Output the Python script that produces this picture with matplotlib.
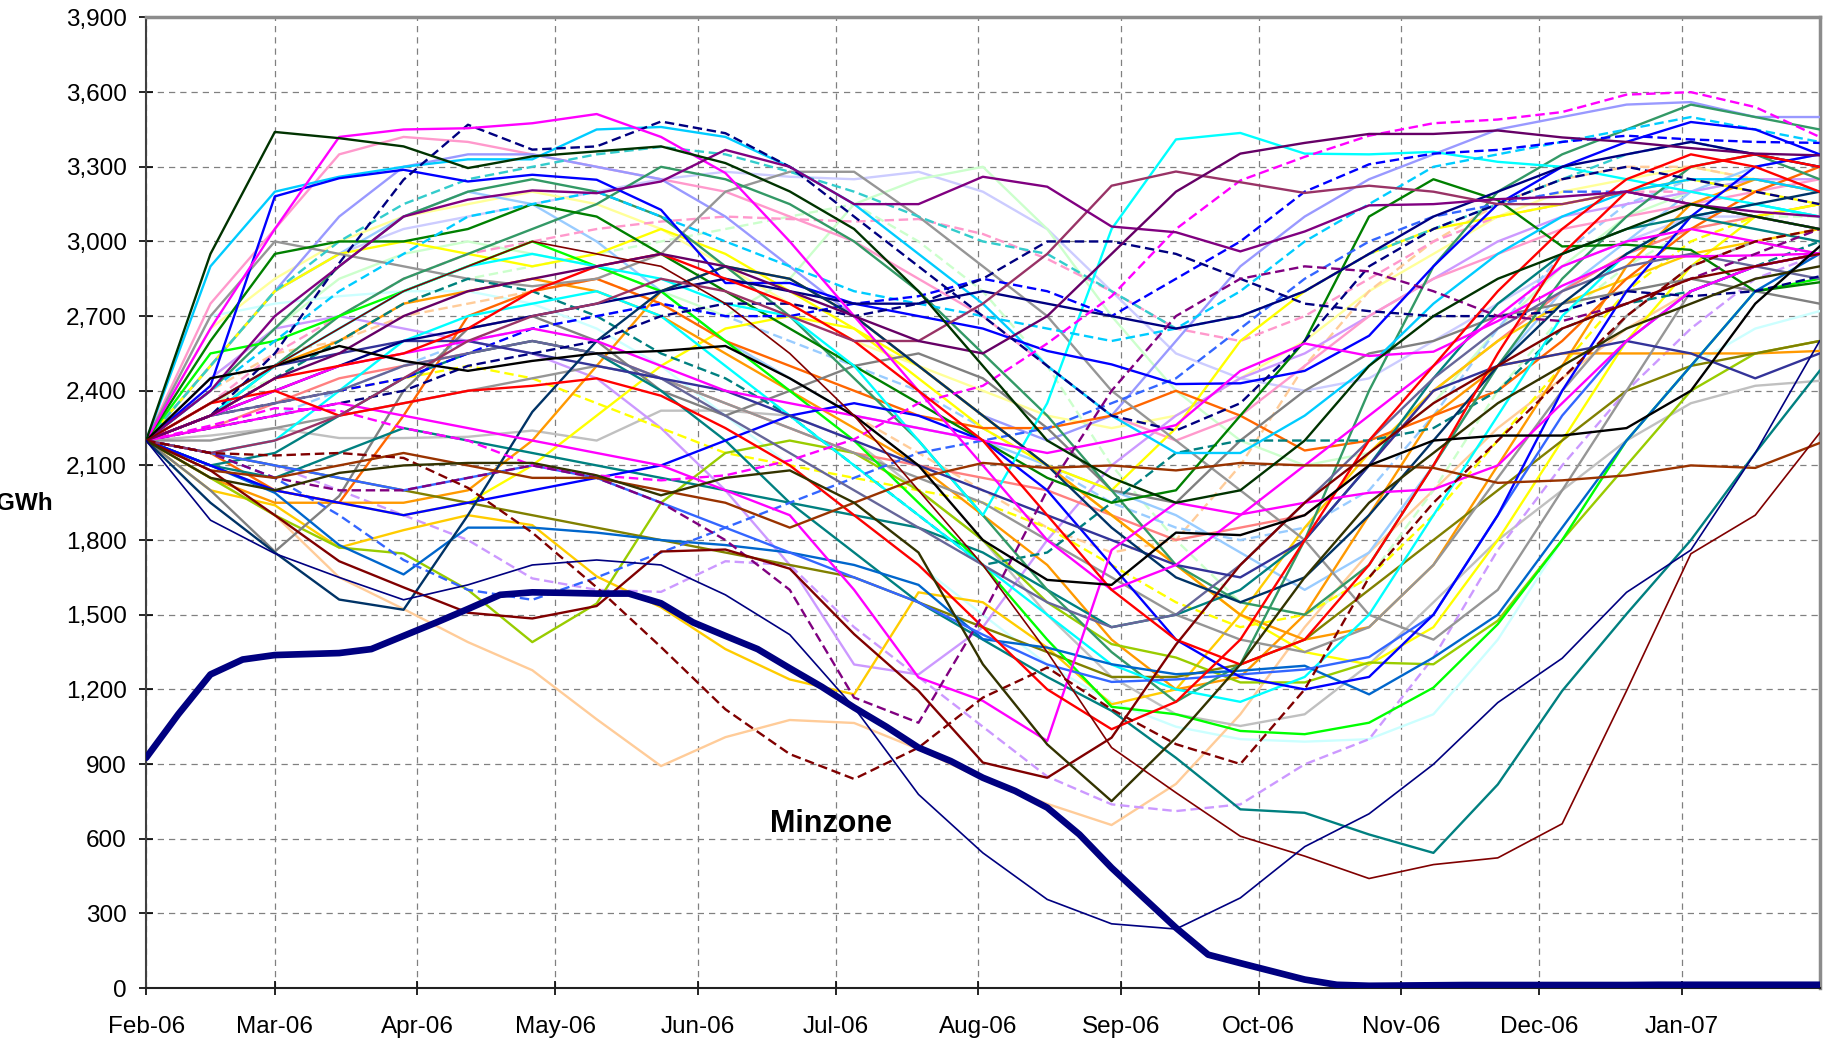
import pandas as pd
import matplotlib
matplotlib.use('Agg')
import matplotlib.pyplot as plt
import matplotlib.dates as mdates
from matplotlib.ticker import FuncFormatter

plt.rcParams['font.family'] = ['Liberation Sans', 'DejaVu Sans']

# weekly dates, Feb-06 .. end Jan-07 ; scenario lines read every second week
weeks = pd.date_range('2006-02-01', periods=53, freq='7D')
fortnights = weeks[::2]

# Minzone (GWh), weekly
minzone = [925, 1100, 1260, 1320, 1338, 1342, 1346, 1362, 1415, 1468,
           1523, 1580, 1590, 1588, 1585, 1585, 1546, 1469, 1415, 1362,
           1285, 1210, 1127, 1050, 966, 912, 845, 792, 725, 617,
           483, 362, 242, 134, 100, 67, 34, 13, 9, 10,
           11, 12, 12, 12, 12, 12, 12, 13, 13, 13, 13, 13, 13]

# inflow scenarios (GWh), every 2 weeks
s_dkgreen = [2200, 2950, 3440, 3415, 3382, 3295, 3342, 3362, 3382, 3315, 3201, 3050, 2800, 2500, 2200, 2050, 1950, 2000, 2200, 2500, 2700, 2850, 2950, 3050, 3150, 3100, 3050]
s_magenta_top = [2200, 2650, 3050, 3420, 3450, 3455, 3475, 3512, 3420, 3275, 3000, 2700, 2400, 2100, 1800, 1600, 1700, 1900, 2100, 2300, 2500, 2700, 2900, 3000, 3050, 3000, 2950]
s_magenta_low = [2200, 2250, 2300, 2350, 2300, 2250, 2200, 2150, 2100, 2000, 1900, 1600, 1248, 1154, 993, 1760, 1950, 1903, 1950, 1990, 2004, 2100, 2350, 2600, 2800, 2900, 2950]
s_magenta_mid = [2200, 2300, 2400, 2500, 2550, 2600, 2650, 2600, 2500, 2400, 2350, 2300, 2250, 2200, 2150, 2200, 2262, 2480, 2590, 2540, 2557, 2680, 2822, 2937, 2940, 2944, 2951]
s_magenta_dash = [2200, 2260, 2330, 2320, 2250, 2200, 2100, 2060, 2040, 2060, 2120, 2205, 2350, 2420, 2590, 2780, 3050, 3245, 3340, 3425, 3475, 3490, 3520, 3590, 3600, 3540, 3420]
s_peach = [2200, 2050, 1900, 1650, 1523, 1390, 1277, 1080, 892, 1008, 1077, 1065, 960, 840, 740, 655, 820, 1100, 1450, 1750, 2000, 2250, 2450, 2650, 2800, 2900, 2950]
s_gold = [2200, 2000, 1940, 1770, 1840, 1900, 1860, 1654, 1530, 1362, 1240, 1180, 1590, 1550, 1368, 1140, 1200, 1500, 1850, 2150, 2400, 2600, 2750, 2850, 2950, 3000, 3050]
s_maroon_dash = [2200, 2150, 2140, 2150, 2130, 2010, 1830, 1610, 1370, 1120, 940, 840, 966, 1167, 1288, 1120, 980, 900, 1200, 1650, 1950, 2200, 2450, 2700, 2900, 3000, 3050]
s_dkred_low = [2200, 2350, 2500, 2650, 2800, 2900, 3000, 2950, 2900, 2750, 2550, 2300, 2000, 1700, 1350, 966, 785, 610, 530, 440, 496, 523, 660, 1194, 1745, 1900, 2230]
s_teal = [2200, 2100, 2150, 2300, 2450, 2550, 2600, 2550, 2400, 2200, 1950, 1750, 1550, 1400, 1250, 1114, 925, 718, 704, 617, 543, 818, 1194, 1503, 1800, 2150, 2480]
s_navy_thin = [2200, 1880, 1746, 1650, 1560, 1620, 1700, 1720, 1700, 1580, 1420, 1127, 778, 543, 356, 258, 237, 362, 568, 700, 899, 1147, 1325, 1590, 1760, 2150, 2600]
s_dkolive = [2200, 2050, 2000, 2070, 2100, 2110, 2110, 2060, 1980, 2050, 2080, 1950, 1750, 1301, 979, 751, 1006, 1300, 1650, 1950, 2150, 2350, 2500, 2650, 2750, 2850, 2900]
s_lav_dash = [2200, 2150, 2100, 2000, 1900, 1800, 1646, 1600, 1592, 1715, 1700, 1450, 1250, 1050, 850, 738, 711, 738, 899, 1000, 1328, 1760, 2100, 2400, 2650, 2850, 2950]
s_chartreuse = [2200, 2050, 1900, 1770, 1746, 1600, 1390, 1545, 1950, 2150, 2200, 2150, 2000, 1800, 1550, 1382, 1328, 1228, 1228, 1308, 1301, 1476, 1800, 2100, 2400, 2550, 2600]
s_dkred2 = [2200, 2080, 1900, 1715, 1610, 1508, 1485, 1535, 1754, 1762, 1685, 1422, 1194, 906, 845, 1006, 1380, 1700, 1950, 2150, 2350, 2500, 2650, 2750, 2850, 2900, 2950]
s_dkslate = [2200, 1950, 1750, 1561, 1520, 1900, 2315, 2600, 2800, 2900, 2850, 2700, 2500, 2300, 2100, 1850, 1650, 1550, 1650, 1900, 2200, 2500, 2750, 2950, 3100, 3150, 3200]
s_deepsky = [2200, 2900, 3200, 3260, 3300, 3330, 3330, 3450, 3460, 3420, 3300, 3150, 2950, 2750, 2500, 2300, 2150, 2150, 2300, 2500, 2750, 2950, 3100, 3200, 3250, 3250, 3200]
s_pink = [2200, 2750, 3050, 3350, 3420, 3400, 3350, 3300, 3250, 3200, 3100, 3000, 2850, 2700, 2500, 2300, 2200, 2300, 2500, 2700, 2850, 2950, 3050, 3100, 3150, 3200, 3250]
s_blue = [2200, 2420, 3181, 3254, 3288, 3241, 3268, 3248, 3127, 2833, 2833, 2750, 2700, 2650, 2560, 2506, 2427, 2430, 2480, 2621, 2900, 3150, 3300, 3400, 3480, 3450, 3350]
s_navy_dash1 = [2200, 2300, 2550, 2913, 3248, 3469, 3369, 3382, 3482, 3435, 3300, 3100, 2900, 2700, 2500, 2300, 2240, 2350, 2600, 2900, 3050, 3150, 3250, 3300, 3250, 3200, 3150]
s_navy_dash2 = [2200, 2250, 2300, 2350, 2400, 2500, 2550, 2600, 2700, 2750, 2750, 2700, 2750, 2850, 3000, 3000, 2950, 2850, 2750, 2720, 2700, 2700, 2720, 2800, 2780, 2800, 2860]
s_purple_a = [2200, 2400, 2700, 2900, 3100, 3168, 3205, 3194, 3241, 3368, 3300, 3150, 3150, 3260, 3220, 3060, 3037, 2960, 3040, 3145, 3150, 3170, 3180, 3200, 3150, 3120, 3100]
s_purple_b = [2200, 2300, 2450, 2550, 2700, 2800, 2850, 2900, 2950, 2900, 2800, 2700, 2600, 2550, 2700, 2950, 3200, 3353, 3396, 3432, 3432, 3446, 3418, 3400, 3375, 3353, 3346]
s_mauve = [2200, 2150, 2200, 2300, 2450, 2600, 2700, 2750, 2850, 2800, 2700, 2600, 2600, 2750, 2950, 3224, 3281, 3238, 3195, 3224, 3200, 3150, 3150, 3200, 3150, 3100, 3050]
s_yellow = [2200, 2500, 2800, 2950, 3000, 2950, 2900, 2950, 3050, 2950, 2800, 2650, 2450, 2250, 2100, 2000, 2250, 2600, 2800, 2950, 3050, 3100, 3150, 3200, 3250, 3200, 3150]
s_yellow2 = [2200, 2100, 2000, 1950, 1900, 1950, 2100, 2300, 2500, 2650, 2700, 2650, 2500, 2300, 2100, 1900, 1700, 1500, 1350, 1300, 1450, 1800, 2200, 2600, 2900, 3100, 3150]
s_red = [2200, 2350, 2400, 2300, 2350, 2400, 2420, 2450, 2380, 2250, 2100, 1900, 1700, 1450, 1200, 1040, 1150, 1400, 1800, 2200, 2500, 2800, 3050, 3250, 3350, 3300, 3200]
s_red2 = [2200, 2300, 2450, 2500, 2550, 2650, 2800, 2900, 2950, 2850, 2750, 2600, 2400, 2200, 1900, 1600, 1400, 1300, 1400, 1700, 2100, 2550, 2950, 3200, 3300, 3350, 3300]
s_green = [2200, 2550, 2600, 2700, 2800, 2900, 3000, 2900, 2800, 2600, 2400, 2200, 1950, 1700, 1400, 1130, 1100, 1033, 1020, 1066, 1207, 1462, 1800, 2200, 2500, 2800, 2850]
s_cyan = [2200, 2300, 2500, 2650, 2800, 2900, 2950, 2900, 2850, 2750, 2700, 2500, 2200, 1900, 2350, 3050, 3410, 3436, 3353, 3350, 3360, 3320, 3300, 3250, 3200, 3150, 3100]
s_cyan2 = [2200, 2150, 2200, 2400, 2600, 2700, 2750, 2800, 2700, 2500, 2300, 2100, 1900, 1700, 1500, 1300, 1200, 1150, 1250, 1500, 1900, 2300, 2700, 2950, 3100, 3150, 3100]
s_teal_dash = [2200, 2300, 2450, 2600, 2750, 2850, 2800, 2700, 2550, 2450, 2300, 2100, 1900, 1700, 1750, 1950, 2150, 2200, 2200, 2200, 2250, 2400, 2650, 2750, 2800, 2900, 3000]
s_teal2 = [2200, 2100, 2050, 2150, 2250, 2200, 2150, 2100, 2050, 2000, 1950, 1900, 1850, 1750, 1600, 1450, 1500, 1600, 1800, 2100, 2450, 2750, 2950, 3050, 3100, 3050, 3000]
s_orange = [2200, 2350, 2500, 2600, 2750, 2800, 2850, 2800, 2700, 2550, 2400, 2250, 2100, 1900, 1700, 1400, 1200, 1250, 1500, 1900, 2300, 2500, 2550, 2550, 2550, 2550, 2560]
s_orange2 = [2200, 2050, 1950, 1950, 1950, 2000, 2200, 2500, 2800, 2900, 2850, 2700, 2500, 2300, 2100, 1900, 1700, 1500, 1400, 1450, 1700, 2100, 2500, 2900, 3150, 3250, 3200]
s_dkorange = [2200, 2150, 2000, 1950, 2300, 2700, 2800, 2850, 2750, 2600, 2500, 2400, 2300, 2250, 2250, 2300, 2400, 2300, 2160, 2200, 2300, 2400, 2600, 2850, 3050, 3200, 3300]
s_brown = [2200, 2080, 2050, 2100, 2150, 2100, 2050, 2050, 2000, 1950, 1850, 1950, 2050, 2110, 2090, 2100, 2080, 2110, 2100, 2100, 2090, 2030, 2040, 2060, 2100, 2090, 2190]
s_gray1 = [2200, 2700, 3000, 2950, 2900, 2850, 2820, 2850, 2950, 3200, 3280, 3280, 3100, 2900, 2700, 2400, 2200, 2000, 1800, 1500, 1400, 1600, 2000, 2400, 2800, 2900, 2950]
s_gray2 = [2200, 2000, 1754, 1977, 2400, 2650, 2700, 2600, 2400, 2300, 2400, 2500, 2550, 2450, 2250, 2000, 1950, 2200, 2400, 2550, 2600, 2700, 2750, 2800, 2850, 2800, 2750]
s_gray3 = [2200, 2200, 2250, 2300, 2350, 2400, 2450, 2500, 2450, 2350, 2250, 2150, 2050, 1950, 1800, 1650, 1500, 1400, 1350, 1450, 1700, 2050, 2400, 2700, 2900, 3000, 2950]
s_silver = [2200, 2220, 2250, 2210, 2210, 2215, 2240, 2200, 2320, 2320, 2300, 2200, 2000, 1800, 1500, 1250, 1100, 1053, 1100, 1300, 1550, 1800, 2000, 2200, 2350, 2420, 2440]
s_ltcyan = [2200, 2700, 2750, 2780, 2800, 2800, 2750, 2650, 2500, 2300, 2100, 1900, 1700, 1500, 1300, 1150, 1050, 1000, 990, 1000, 1100, 1400, 1800, 2200, 2500, 2650, 2720]
s_ltgreen = [2200, 2450, 2650, 2850, 2950, 3000, 2950, 2900, 2800, 2700, 2850, 3150, 3250, 3300, 3050, 2700, 2400, 2200, 2100, 2150, 2350, 2650, 2900, 3100, 3200, 3250, 3200]
s_ltyellow = [2200, 2650, 2850, 3000, 3100, 3150, 3200, 3150, 3050, 2900, 2750, 2600, 2500, 2400, 2300, 2250, 2300, 2450, 2600, 2800, 2950, 3100, 3200, 3250, 3300, 3250, 3200]
s_ltblue = [2200, 2500, 2800, 2950, 3100, 3200, 3150, 3000, 2800, 2600, 2450, 2300, 2250, 2200, 2100, 2000, 1900, 1750, 1600, 1750, 2100, 2500, 2800, 3000, 3200, 3300, 3350]
s_ltblue_dash = [2200, 2250, 2300, 2400, 2500, 2600, 2650, 2700, 2750, 2700, 2600, 2500, 2400, 2250, 2100, 1950, 1850, 1800, 1850, 2000, 2300, 2650, 2950, 3150, 3250, 3250, 3200]
s_lav = [2200, 2450, 2650, 2700, 2650, 2600, 2550, 2450, 2250, 2000, 1700, 1300, 1260, 1450, 1800, 2100, 2300, 2450, 2550, 2700, 2850, 3000, 3100, 3150, 3200, 3250, 3250]
s_royal = [2200, 2150, 2100, 2050, 2000, 2050, 2100, 2050, 1950, 1850, 1750, 1650, 1550, 1420, 1300, 1230, 1240, 1260, 1280, 1330, 1500, 1900, 2300, 2600, 2800, 2900, 2950]
s_turq_dash = [2200, 2500, 2800, 3000, 3150, 3250, 3300, 3350, 3380, 3350, 3280, 3200, 3100, 3000, 2950, 2800, 2650, 2700, 2800, 2950, 3050, 3150, 3250, 3350, 3400, 3350, 3300]
s_seagreen = [2200, 2400, 2650, 2900, 3100, 3200, 3250, 3200, 3100, 2900, 2700, 2450, 2200, 1900, 1600, 1350, 1150, 1300, 1800, 2400, 2900, 3200, 3350, 3450, 3550, 3500, 3450]
s_seagreen2 = [2200, 2300, 2500, 2700, 2850, 2950, 3050, 3150, 3300, 3250, 3150, 3000, 2800, 2550, 2300, 2000, 1700, 1550, 1500, 1700, 2100, 2500, 2850, 3100, 3300, 3350, 3250]
s_periwinkle = [2200, 2500, 2800, 3100, 3300, 3350, 3350, 3300, 3250, 3100, 2900, 2700, 2500, 2300, 2200, 2300, 2600, 2900, 3100, 3250, 3350, 3450, 3500, 3550, 3560, 3500, 3500]
s_deepsky_dash = [2200, 2400, 2600, 2800, 2950, 3100, 3150, 3200, 3100, 3000, 2900, 2800, 2750, 2700, 2650, 2600, 2650, 2800, 3000, 3150, 3300, 3350, 3400, 3450, 3500, 3450, 3400]
s_blue_dash = [2200, 2300, 2350, 2400, 2450, 2550, 2650, 2700, 2750, 2700, 2700, 2750, 2780, 2850, 2800, 2700, 2850, 3000, 3200, 3310, 3353, 3368, 3400, 3425, 3410, 3400, 3396]
s_blue2 = [2200, 2100, 2000, 1950, 1900, 1950, 2000, 2050, 2100, 2200, 2300, 2350, 2300, 2200, 2000, 1700, 1400, 1250, 1200, 1250, 1500, 1900, 2400, 2800, 3100, 3300, 3350]
s_black = [2200, 2450, 2500, 2580, 2520, 2480, 2520, 2550, 2560, 2580, 2450, 2300, 2100, 1800, 1640, 1620, 1830, 1820, 1900, 2100, 2200, 2220, 2220, 2250, 2400, 2750, 2980]
s_indigo = [2200, 2350, 2500, 2550, 2600, 2600, 2550, 2500, 2450, 2400, 2300, 2200, 2100, 2000, 1900, 1800, 1700, 1650, 1800, 2100, 2400, 2500, 2550, 2600, 2550, 2450, 2550]
s_slate = [2200, 2300, 2350, 2400, 2500, 2550, 2600, 2550, 2450, 2300, 2150, 2000, 1850, 1700, 1550, 1450, 1500, 1700, 1950, 2200, 2450, 2650, 2800, 2900, 2950, 2900, 2850]
s_ocean = [2200, 2100, 1990, 1780, 1662, 1850, 1850, 1830, 1800, 1780, 1750, 1700, 1620, 1402, 1368, 1301, 1261, 1275, 1295, 1180, 1328, 1500, 1850, 2200, 2500, 2800, 2950]
s_salmon = [2200, 2250, 2350, 2450, 2500, 2550, 2600, 2550, 2450, 2350, 2250, 2150, 2100, 2050, 2000, 1900, 1800, 1850, 1900, 2100, 2400, 2600, 2800, 2950, 3050, 3100, 3150]
s_green2 = [2200, 2600, 2950, 3000, 3000, 3050, 3150, 3100, 2950, 2800, 2650, 2500, 2350, 2200, 2050, 1950, 2000, 2300, 2600, 3100, 3250, 3166, 2980, 2987, 2966, 2800, 2836]
s_pink_dash = [2200, 2350, 2550, 2700, 2850, 2950, 3000, 3050, 3080, 3100, 3090, 3080, 3090, 3030, 2930, 2800, 2650, 2600, 2700, 2850, 3000, 3100, 3150, 3200, 3200, 3150, 3100]
s_purple_dash = [2200, 2150, 2050, 2000, 2000, 2050, 2100, 2050, 1950, 1800, 1600, 1167, 1066, 1500, 2000, 2400, 2700, 2850, 2900, 2880, 2800, 2700, 2680, 2750, 2850, 2950, 3050]
s_yellow_dash = [2200, 2300, 2350, 2400, 2450, 2500, 2450, 2350, 2250, 2150, 2100, 2050, 2000, 1950, 1850, 1700, 1550, 1450, 1500, 1650, 1900, 2200, 2500, 2800, 3000, 3100, 3150]
s_peach_dash = [2200, 2400, 2550, 2600, 2700, 2750, 2800, 2850, 2750, 2600, 2450, 2300, 2150, 2000, 1850, 1750, 1800, 2100, 2500, 2800, 3000, 3150, 3250, 3300, 3300, 3250, 3200]
s_royal_dash = [2200, 2150, 2050, 1900, 1720, 1600, 1560, 1650, 1750, 1850, 1950, 2050, 2150, 2200, 2250, 2350, 2450, 2650, 2850, 3000, 3100, 3150, 3200, 3200, 3150, 3100, 3050]
s_ltgreen_dash = [2200, 2350, 2450, 2600, 2750, 2850, 2900, 2950, 3000, 3050, 3100, 3150, 3000, 2800, 2500, 2100, 1800, 1550, 1500, 1650, 2000, 2400, 2700, 2900, 3050, 3100, 3100]
s_ice = [2200, 2500, 2800, 2950, 3050, 3100, 3150, 3200, 3250, 3280, 3260, 3250, 3280, 3200, 3050, 2800, 2550, 2450, 2400, 2450, 2600, 2750, 2900, 3000, 3100, 3100, 3050]
s_olive = [2200, 2150, 2100, 2050, 2000, 1950, 1900, 1850, 1800, 1750, 1700, 1650, 1550, 1450, 1350, 1250, 1250, 1300, 1400, 1600, 1800, 2000, 2200, 2400, 2500, 2550, 2600]
s_navy2 = [2200, 2300, 2400, 2500, 2600, 2650, 2700, 2750, 2800, 2850, 2800, 2750, 2750, 2800, 2750, 2700, 2650, 2700, 2800, 2950, 3100, 3200, 3300, 3350, 3400, 3350, 3300]

# (values, colour, dashed)
lines = [
    (s_ice, '#CCCCFF', False), (s_ltyellow, '#FFFF99', False), (s_ltgreen, '#CCFFCC', False),
    (s_ltcyan, '#CCFFFF', False), (s_peach, '#FFCC99', False), (s_ltgreen_dash, '#CCFFCC', True),
    (s_peach_dash, '#FFCC99', True), (s_ltblue, '#99CCFF', False), (s_ltblue_dash, '#99CCFF', True),
    (s_silver, '#C0C0C0', False), (s_lav, '#CC99FF', False), (s_lav_dash, '#CC99FF', True),
    (s_pink, '#FF99CC', False), (s_pink_dash, '#FF99CC', True), (s_periwinkle, '#9999FF', False),
    (s_salmon, '#FF8080', False), (s_yellow, '#FFFF00', False), (s_yellow2, '#FFFF00', False),
    (s_yellow_dash, '#FFFF00', True), (s_gold, '#FFCC00', False), (s_orange, '#FF9900', False),
    (s_orange2, '#FF9900', False), (s_dkorange, '#FF6600', False), (s_chartreuse, '#99CC00', False),
    (s_olive, '#808000', False), (s_gray1, '#969696', False), (s_gray2, '#808080', False),
    (s_gray3, '#969696', False), (s_turq_dash, '#33CCCC', True), (s_teal_dash, '#008080', True),
    (s_teal2, '#008080', False), (s_teal, '#008080', False), (s_seagreen, '#339966', False),
    (s_seagreen2, '#339966', False), (s_green, '#00FF00', False), (s_green2, '#008000', False),
    (s_cyan, '#00FFFF', False), (s_cyan2, '#00FFFF', False), (s_deepsky, '#00CCFF', False),
    (s_deepsky_dash, '#00CCFF', True), (s_ocean, '#0066CC', False), (s_royal, '#3366FF', False),
    (s_royal_dash, '#3366FF', True), (s_blue, '#0000FF', False), (s_blue2, '#0000FF', False),
    (s_blue_dash, '#0000FF', True), (s_slate, '#666699', False), (s_indigo, '#333399', False),
    (s_navy2, '#000080', False), (s_navy_dash1, '#000080', True), (s_navy_dash2, '#000080', True),
    (s_dkslate, '#003366', False), (s_magenta_mid, '#FF00FF', False), (s_magenta_low, '#FF00FF', False),
    (s_magenta_top, '#FF00FF', False), (s_magenta_dash, '#FF00FF', True), (s_red, '#FF0000', False),
    (s_red2, '#FF0000', False), (s_mauve, '#993366', False), (s_purple_a, '#800080', False),
    (s_purple_dash, '#800080', True), (s_purple_b, '#660066', False), (s_brown, '#993300', False),
    (s_dkred2, '#800000', False), (s_maroon_dash, '#800000', True), (s_dkolive, '#333300', False),
    (s_black, '#000000', False), (s_dkgreen, '#003300', False),
]
thin = {id(s_navy_thin), id(s_dkred_low)}
lines += [(s_dkred_low, '#800000', False), (s_navy_thin, '#000080', False)]

fig = plt.figure(figsize=(18.33, 10.41), dpi=100)
ax = fig.add_axes([0.0797, 0.0509, 0.913, 0.9323])

for vals, col, dashed in lines:
    assert len(vals) == len(fortnights)
    ls = (0, (4, 2)) if dashed else '-'
    lw = 1.2 if id(vals) in thin else 1.7
    ax.plot(fortnights, vals, color=col, lw=lw, linestyle=ls, zorder=3)

ax.plot(weeks, minzone, color='#000080', lw=4.8, solid_capstyle='round',
        solid_joinstyle='round', zorder=5)
ax.text(pd.Timestamp('2006-06-30'), 660, 'Minzone', ha='center', va='center',
        fontsize=22, fontweight='bold', zorder=6)

ax.set_xlim(weeks[0], weeks[-1])
ax.set_ylim(0, 3900)
ax.set_yticks(range(0, 3901, 300))
ax.yaxis.set_major_formatter(FuncFormatter(lambda v, p: f'{v:,.0f}'))
ax.xaxis.set_major_locator(mdates.MonthLocator())
ax.xaxis.set_major_formatter(mdates.DateFormatter('%b-%y'))

ax.grid(True, color='#808080', linestyle=(0, (5, 4)), linewidth=0.9)
ax.set_axisbelow(True)
ax.tick_params(direction='inout', length=10, width=1.2, labelsize=17.5)
ax.tick_params(axis='y', pad=9)
ax.tick_params(axis='x', pad=15)

for side in ('top', 'right'):
    ax.spines[side].set_color('#8c8c8c')
    ax.spines[side].set_linewidth(2.5)
ax.spines['left'].set_color('#404040')
ax.spines['left'].set_linewidth(1.5)
ax.spines['bottom'].set_color('#202020')
ax.spines['bottom'].set_linewidth(1.5)

fig.text(53 / 1833, 1 - 503 / 1041, 'GWh', ha='right', va='center',
         fontsize=17.5, fontweight='bold')

fig.savefig('out.png', dpi=100)
